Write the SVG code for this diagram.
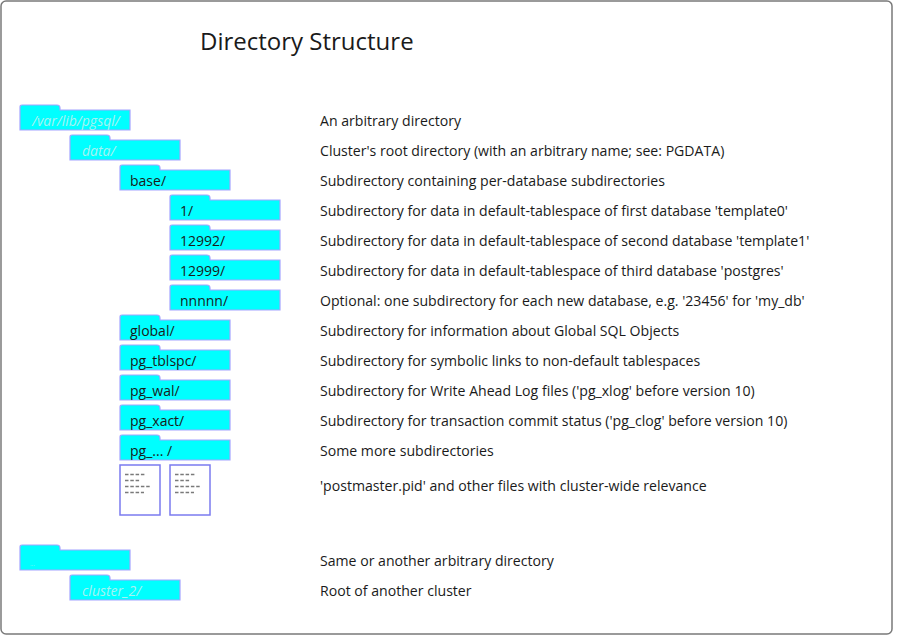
<svg xmlns="http://www.w3.org/2000/svg" xmlns:xlink="http://www.w3.org/1999/xlink" width="900" height="640" viewBox="0 0 900 640">
<style>
.frame{fill:#fff;stroke:#7a7a7a;stroke-width:1.5}
.title{font-family:"Open Sans","Noto Sans",sans-serif;font-size:24px;fill:#1a1a1a}
.fold{fill:#00ffff;stroke:#a4a4ff;stroke-width:1.2}
.ft{font-family:"Open Sans","Noto Sans",sans-serif;font-size:14px;fill:#1a1a1a}
.faint{font-family:"Open Sans","Noto Sans",sans-serif;font-size:14px;font-style:italic;fill:#a6f2f2}
.tiny{font-family:"Open Sans","Noto Sans",sans-serif;font-size:6px;fill:#a6f2f2}
.desc{font-family:"Open Sans","Noto Sans",sans-serif;font-size:14.1px;fill:#1a1a1a}
.file{fill:#fff;stroke:#7b7bef;stroke-width:1.5}
.dash{stroke:#7a7a7a;stroke-width:1.6;stroke-dasharray:3.5,1.8}
</style>
<defs>
<path id="folder" d="M0,20 L0,-3 Q0,-5 2,-5 L37,-5 Q40,-5 40,-2 L40,0 L110,0 L110,20 Z"/>
<g id="file">
<rect x="0" y="0" width="40" height="50" class="file"/>
<line x1="5" y1="9.5" x2="26" y2="9.5" class="dash"/>
<line x1="5" y1="15.5" x2="20" y2="15.5" class="dash"/>
<line x1="5" y1="21.5" x2="31" y2="21.5" class="dash"/>
<line x1="5" y1="27.5" x2="24" y2="27.5" class="dash"/>
</g>
</defs>
<rect x="1" y="1" width="891" height="633" rx="5" class="frame"/>
<text x="200" y="50" class="title">Directory Structure</text>
<g id="connectors"></g>
<g id="n-varlib"><use xlink:href="#folder" x="20" y="110" class="fold"/><text x="32" y="126" class="faint">/var/lib/pgsql/</text></g>
<g id="n-data"><use xlink:href="#folder" x="70" y="140" class="fold"/><text x="82" y="156" class="faint">data/</text></g>
<g id="n-base"><use xlink:href="#folder" x="120" y="170" class="fold"/><text x="130" y="186" class="ft">base/</text></g>
<g id="n-1"><use xlink:href="#folder" x="170" y="200" class="fold"/><text x="180" y="216" class="ft">1/</text></g>
<g id="n-12992"><use xlink:href="#folder" x="170" y="230" class="fold"/><text x="180" y="246" class="ft">12992/</text></g>
<g id="n-12999"><use xlink:href="#folder" x="170" y="260" class="fold"/><text x="180" y="276" class="ft">12999/</text></g>
<g id="n-nnnnn"><use xlink:href="#folder" x="170" y="290" class="fold"/><text x="180" y="306" class="ft">nnnnn/</text></g>
<g id="n-global"><use xlink:href="#folder" x="120" y="320" class="fold"/><text x="130" y="336" class="ft">global/</text></g>
<g id="n-tblspc"><use xlink:href="#folder" x="120" y="350" class="fold"/><text x="130" y="366" class="ft">pg_tblspc/</text></g>
<g id="n-wal"><use xlink:href="#folder" x="120" y="380" class="fold"/><text x="130" y="396" class="ft">pg_wal/</text></g>
<g id="n-xact"><use xlink:href="#folder" x="120" y="410" class="fold"/><text x="130" y="426" class="ft">pg_xact/</text></g>
<g id="n-pgmore"><use xlink:href="#folder" x="120" y="440" class="fold"/><text x="130" y="456" class="ft">pg_... /</text></g>
<g id="n-files"><use xlink:href="#file" x="120" y="465"/><use xlink:href="#file" x="170" y="465"/></g>
<g id="n-other"><use xlink:href="#folder" x="20" y="550" class="fold"/><text x="30" y="566" class="tiny">...</text></g>
<g id="n-cluster2"><use xlink:href="#folder" x="70" y="580" class="fold"/><text x="82" y="596" class="faint">cluster_2/</text></g>
<g id="descriptions">
<text x="320" y="126" class="desc">An arbitrary directory</text>
<text x="320" y="156" class="desc">Cluster's root directory (with an arbitrary name; see: PGDATA)</text>
<text x="320" y="186" class="desc">Subdirectory containing per-database subdirectories</text>
<text x="320" y="216" class="desc">Subdirectory for data in default-tablespace of first database 'template0'</text>
<text x="320" y="246" class="desc">Subdirectory for data in default-tablespace of second database 'template1'</text>
<text x="320" y="276" class="desc">Subdirectory for data in default-tablespace of third database 'postgres'</text>
<text x="320" y="306" class="desc">Optional: one subdirectory for each new database, e.g. '23456' for 'my_db'</text>
<text x="320" y="336" class="desc">Subdirectory for information about Global SQL Objects</text>
<text x="320" y="366" class="desc">Subdirectory for symbolic links to non-default tablespaces</text>
<text x="320" y="396" class="desc">Subdirectory for Write Ahead Log files ('pg_xlog' before version 10)</text>
<text x="320" y="426" class="desc">Subdirectory for transaction commit status ('pg_clog' before version 10)</text>
<text x="320" y="456" class="desc">Some more subdirectories</text>
<text x="320" y="491" class="desc">'postmaster.pid' and other files with cluster-wide relevance</text>
<text x="320" y="566" class="desc">Same or another arbitrary directory</text>
<text x="320" y="596" class="desc">Root of another cluster</text>
</g>
</svg>
